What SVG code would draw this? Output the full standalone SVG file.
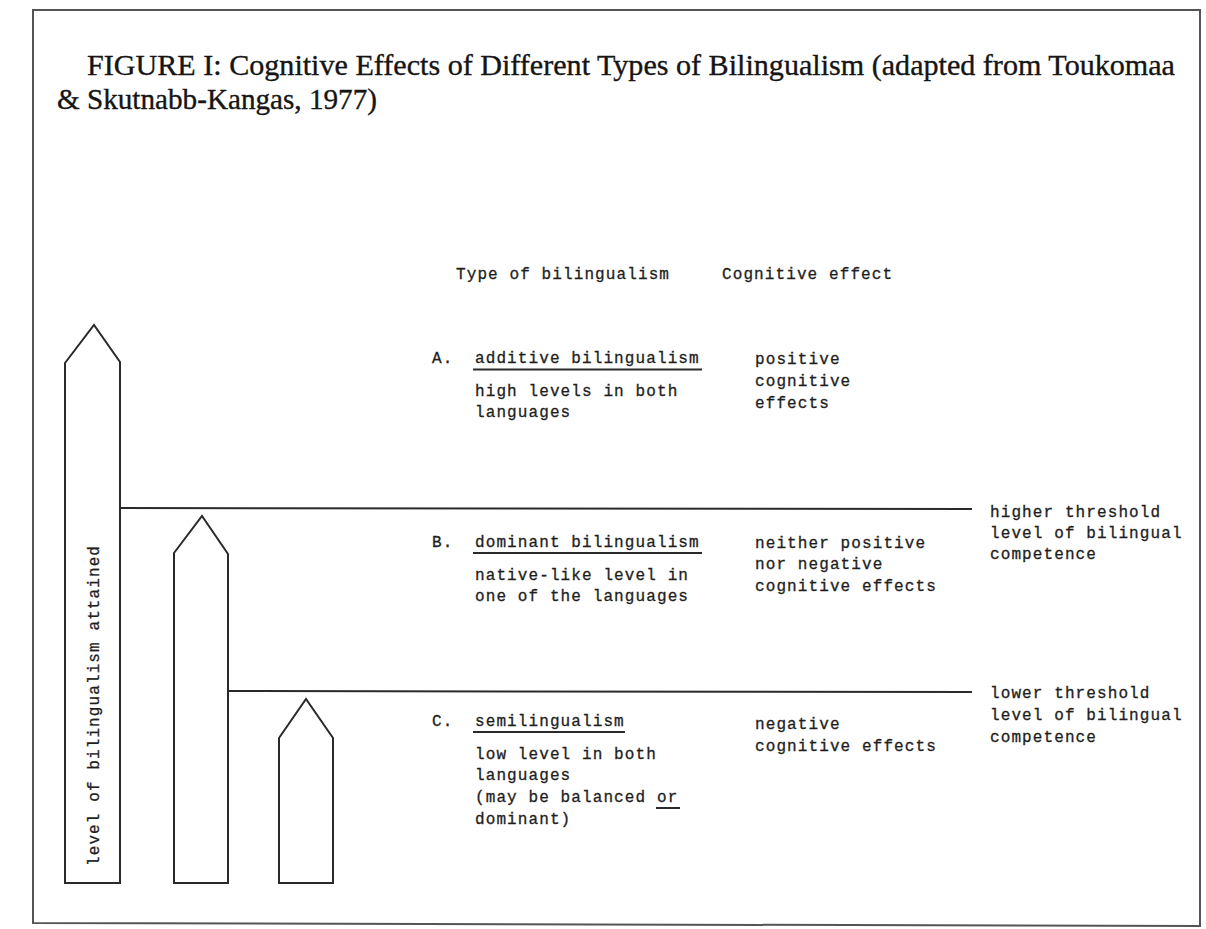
<svg xmlns="http://www.w3.org/2000/svg" width="1206" height="929" viewBox="0 0 1206 929">
<style>
.frame{fill:none;stroke:#555;stroke-width:2}
.bar{fill:#fff;stroke:#2a2a2a;stroke-width:2;stroke-linejoin:miter}
.rule{stroke:#2a2a2a;stroke-width:2;fill:none}
.ul{stroke:#2a2a2a;stroke-width:2}
.title{font-family:"Liberation Serif","Times New Roman",serif;font-size:30px;fill:#151515;stroke:#151515;stroke-width:0.35}
.tw{font-family:"Liberation Mono","Courier New",monospace;font-size:16px;letter-spacing:1.1px;fill:#1e1e1e;stroke:#1e1e1e;stroke-width:0.3}
</style>
<rect width="1206" height="929" fill="#fff"/>
<path class="frame" d="M33,10 L1200,10 L1200,926 L33,923 Z"/>
<g id="title">
<text class="title" x="87" y="75" textLength="1088" lengthAdjust="spacingAndGlyphs">FIGURE I: Cognitive Effects of Different Types of Bilingualism (adapted from Toukomaa</text>
<text class="title" x="57" y="109" textLength="320" lengthAdjust="spacingAndGlyphs">&amp; Skutnabb-Kangas, 1977)</text>
</g>
<g id="headers">
<text class="tw" x="456" y="279">Type of bilingualism</text>
<text class="tw" x="722" y="279">Cognitive effect</text>
</g>
<g id="connectors">
<line class="rule" x1="120" y1="508" x2="972" y2="509"/>
<line class="rule" x1="228" y1="691" x2="972" y2="692"/>
</g>
<g id="bar-additive">
<polygon class="bar" points="65,883 65,363 94,325 120,362 120,883"/>
<text class="tw" transform="translate(99,866) rotate(-90)">level of bilingualism attained</text>
</g>
<g id="bar-dominant">
<polygon class="bar" points="174,883 174,553 202,516 228,554 228,883"/>
</g>
<g id="bar-semi">
<polygon class="bar" points="279,883 279,738 306,699 333,738 333,883"/>
</g>
<g id="type-A">
<text class="tw" x="432" y="363">A.</text>
<text class="tw" x="475" y="363">additive bilingualism</text>
<line class="ul" x1="473" y1="369.5" x2="702" y2="369.5"/>
<text class="tw" x="475" y="396">high levels in both</text>
<text class="tw" x="475" y="417">languages</text>
</g>
<g id="effect-A">
<text class="tw" x="755" y="364">positive</text>
<text class="tw" x="755" y="386">cognitive</text>
<text class="tw" x="755" y="408">effects</text>
</g>
<g id="type-B">
<text class="tw" x="432" y="547">B.</text>
<text class="tw" x="475" y="547">dominant bilingualism</text>
<line class="ul" x1="473" y1="553" x2="702" y2="553"/>
<text class="tw" x="475" y="580">native-like level in</text>
<text class="tw" x="475" y="601">one of the languages</text>
</g>
<g id="effect-B">
<text class="tw" x="755" y="548">neither positive</text>
<text class="tw" x="755" y="569">nor negative</text>
<text class="tw" x="755" y="591">cognitive effects</text>
</g>
<g id="threshold-high">
<text class="tw" x="990" y="517">higher threshold</text>
<text class="tw" x="990" y="538">level of bilingual</text>
<text class="tw" x="990" y="559">competence</text>
</g>
<g id="type-C">
<text class="tw" x="432" y="726">C.</text>
<text class="tw" x="475" y="726">semilingualism</text>
<line class="ul" x1="473" y1="732" x2="625" y2="732"/>
<text class="tw" x="475" y="759">low level in both</text>
<text class="tw" x="475" y="780">languages</text>
<text class="tw" x="475" y="802">(may be balanced or</text>
<line class="ul" x1="656" y1="808" x2="680" y2="808"/>
<text class="tw" x="475" y="824">dominant)</text>
</g>
<g id="effect-C">
<text class="tw" x="755" y="729">negative</text>
<text class="tw" x="755" y="751">cognitive effects</text>
</g>
<g id="threshold-low">
<text class="tw" x="990" y="698">lower threshold</text>
<text class="tw" x="990" y="720">level of bilingual</text>
<text class="tw" x="990" y="742">competence</text>
</g>
</svg>
